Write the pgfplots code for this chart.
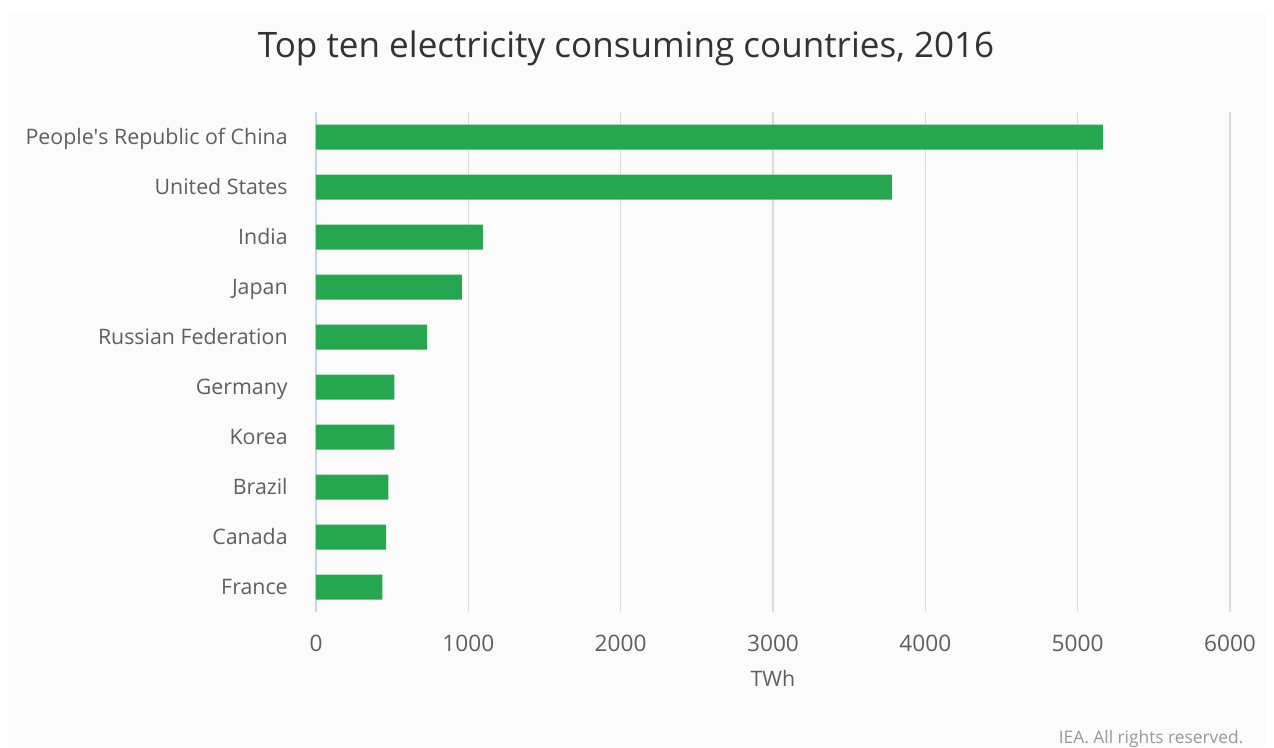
\documentclass[border=0pt]{standalone}
\usepackage{pgfplots}
\pgfplotsset{compat=1.18}
\usepackage{fontspec}
\setmainfont{Open Sans}
\definecolor{barg}{RGB}{39,166,80}
\definecolor{bgc}{RGB}{251,251,251}
\definecolor{lab}{RGB}{95,95,95}
\definecolor{gridc}{RGB}{220,220,220}
\definecolor{axc}{RGB}{200,212,232}
\begin{document}
\begin{tikzpicture}[x=0.75pt,y=0.75pt]
\useasboundingbox (0,0) rectangle (1274,747);
\fill[white] (0,0) rectangle (1274,747);
\fill[bgc] (8,0) rectangle (1266,735);
\node[anchor=center,text=black!80,font=\fontsize{26.3}{30}\selectfont] at (626,699) {Top ten electricity consuming countries, 2016};
\node[anchor=base east,text=black!40,font=\fontsize{13}{15}\selectfont] at (1248,4) {IEA. All rights reserved.};
\begin{axis}[
  at={(237pt,101.25pt)}, anchor=south west,
  width=685.5pt, height=375pt, scale only axis,
  xbar, bar width=18.75pt,
  xmin=0, xmax=6000,
  ymin=-0.5, ymax=9.5, y dir=reverse,
  ytick={0,...,9},
  yticklabels={People\textquotesingle s Republic of China,United States,India,Japan,Russian Federation,Germany,Korea,Brazil,Canada,France},
  xtick={0,1000,...,6000},
  /pgf/number format/assume math mode=true,
  /pgf/number format/set thousands separator={},
  scaled x ticks=false,
  xmajorgrids, major grid style={gridc, line width=1pt},
  axis x line*=bottom,
  x axis line style={draw=none},
  axis y line*=left,
  y axis line style={axc, line width=1.2pt, -},
  major tick length=0pt,
  ticklabel style={text=lab, font=\fontsize{16}{18}\selectfont},
  yticklabel style={xshift=-17.75pt, yshift=-2.5pt, text height=1.6ex, text depth=0.45ex, anchor=east},
  xticklabel style={yshift=-14pt, font=\fontsize{17}{19}\selectfont},
  xlabel={TWh}, xlabel style={text=lab, font=\fontsize{16}{18}\selectfont, yshift=-7pt},
  clip=false,
]
\addplot[fill=barg, draw=none] coordinates {
(5165,0) (3780,1) (1096,2) (958,3) (730,4) (514,5) (514,6) (475,7) (460,8) (435,9)
};
\end{axis}
\end{tikzpicture}
\end{document}
